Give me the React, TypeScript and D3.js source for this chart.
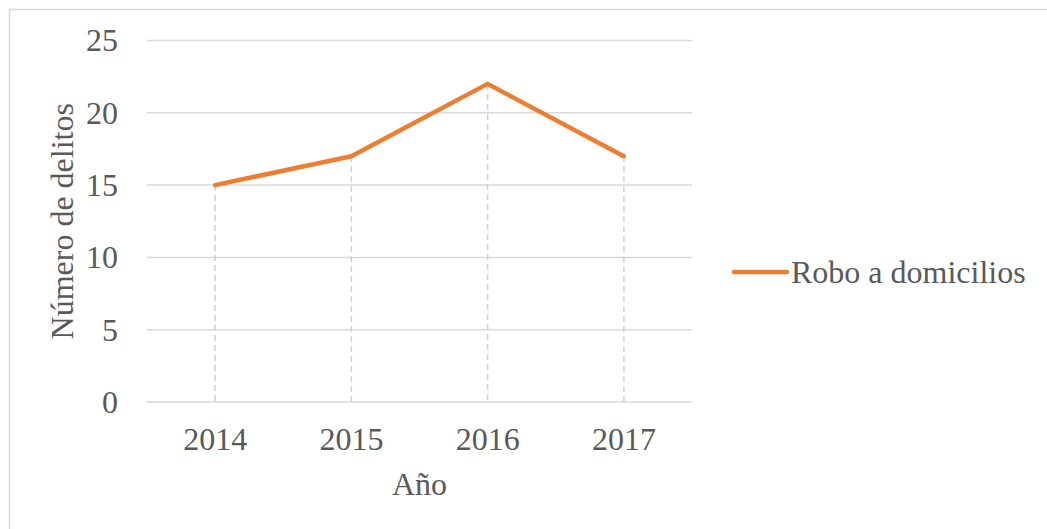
import React, { useEffect, useRef } from 'react'
import * as d3 from 'd3'

const years = ['2014', '2015', '2016', '2017']
const robos = [15, 17, 22, 17]
const yTicks = [0, 5, 10, 15, 20, 25]
const seriesName = 'Robo a domicilios'

const W = 1047, H = 529
const plot = { left: 147, right: 692, top: 40.5, bottom: 402 }
const textColor = '#595959'
const font = '"Liberation Serif", "Times New Roman", serif'
const fontSize = '32px'

export default function App() {
  const ref = useRef<SVGSVGElement>(null)

  useEffect(() => {
    const svg = d3.select(ref.current)
    svg.selectAll('*').remove()

    // outer border of the chart area
    svg.append('rect')
      .attr('x', 9.5).attr('y', 9.5)
      .attr('width', 1040).attr('height', 540)
      .attr('fill', 'white')
      .attr('stroke', '#d9d9d9')
      .attr('stroke-width', 1.5)

    const x = d3.scalePoint<string>()
      .domain(years)
      .range([plot.left, plot.right])
      .padding(0.5)

    const y = d3.scaleLinear()
      .domain([0, 25])
      .range([plot.bottom, plot.top])

    // horizontal gridlines
    svg.append('g')
      .selectAll('line')
      .data(yTicks)
      .join('line')
      .attr('x1', plot.left)
      .attr('x2', plot.right)
      .attr('y1', d => y(d))
      .attr('y2', d => y(d))
      .attr('stroke', '#d9d9d9')
      .attr('stroke-width', 1.5)

    // y tick labels
    svg.append('g')
      .selectAll('text')
      .data(yTicks)
      .join('text')
      .attr('x', 118)
      .attr('y', d => y(d))
      .attr('dy', '0.34em')
      .attr('text-anchor', 'end')
      .attr('fill', textColor)
      .style('font-family', font)
      .style('font-size', fontSize)
      .text(d => d)

    // drop lines
    svg.append('g')
      .selectAll('line')
      .data(years)
      .join('line')
      .attr('x1', d => x(d)!)
      .attr('x2', d => x(d)!)
      .attr('y1', (d, i) => y(robos[i]))
      .attr('y2', plot.bottom)
      .attr('stroke', '#d0d0d0')
      .attr('stroke-width', 1.5)
      .attr('stroke-dasharray', '6,4')

    // x tick labels
    svg.append('g')
      .selectAll('text')
      .data(years)
      .join('text')
      .attr('x', d => x(d)!)
      .attr('y', 450)
      .attr('text-anchor', 'middle')
      .attr('fill', textColor)
      .style('font-family', font)
      .style('font-size', fontSize)
      .text(d => d)

    const line = d3.line<number>()
      .x((d, i) => x(years[i])!)
      .y(d => y(d))

    svg.append('path')
      .datum(robos)
      .attr('d', line)
      .attr('fill', 'none')
      .attr('stroke', '#ED7D31')
      .attr('stroke-width', 4.5)
      .attr('stroke-linecap', 'round')
      .attr('stroke-linejoin', 'round')

    // axis titles
    svg.append('text')
      .attr('transform', `translate(73,${(plot.top + plot.bottom) / 2}) rotate(-90)`)
      .attr('text-anchor', 'middle')
      .attr('fill', textColor)
      .style('font-family', font)
      .style('font-size', fontSize)
      .text('Número de delitos')

    svg.append('text')
      .attr('x', (plot.left + plot.right) / 2)
      .attr('y', 495)
      .attr('text-anchor', 'middle')
      .attr('fill', textColor)
      .style('font-family', font)
      .style('font-size', fontSize)
      .text('Año')

    // legend
    const legend = svg.append('g')
    legend.append('line')
      .attr('x1', 734).attr('x2', 787)
      .attr('y1', 272).attr('y2', 272)
      .attr('stroke', '#ED7D31')
      .attr('stroke-width', 4.5)
      .attr('stroke-linecap', 'round')
    legend.append('text')
      .attr('x', 791)
      .attr('y', 272)
      .attr('dy', '0.34em')
      .attr('fill', textColor)
      .style('font-family', font)
      .style('font-size', fontSize)
      .text(seriesName)
  }, [])

  return (
    <svg ref={ref} width={W} height={H}
      style={{ position: 'absolute', left: 0, top: 0, background: 'white' }} />
  )
}
